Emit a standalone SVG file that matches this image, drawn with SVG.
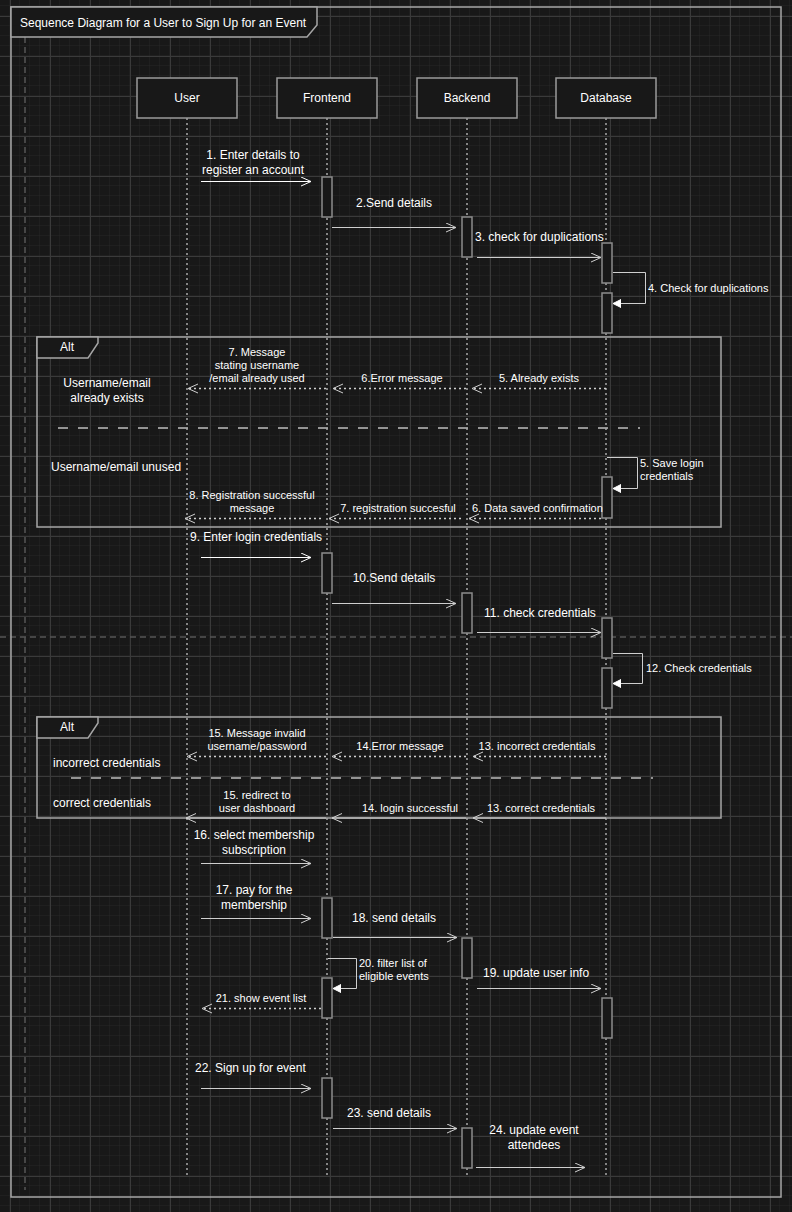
<svg xmlns="http://www.w3.org/2000/svg" width="792" height="1212" viewBox="0 0 792 1212">
<defs>
<pattern id="minor" x="0" y="6" width="10" height="10" patternUnits="userSpaceOnUse"><path d="M10,0 V10 M0,10 H10" fill="none" stroke="#262626" stroke-width="1"/></pattern>
<pattern id="major" x="10" y="16" width="40" height="40" patternUnits="userSpaceOnUse"><path d="M0.5,0 V40 M0,0.5 H40" fill="none" stroke="#3a3a3a" stroke-width="1"/></pattern>
<marker id="openW" markerUnits="userSpaceOnUse" markerWidth="14" markerHeight="12" refX="11" refY="5" orient="auto"><path d="M1,0.5 L11,5 L1,9.5" fill="none" stroke="#ffffff" stroke-width="1"/></marker>
<marker id="openG" markerUnits="userSpaceOnUse" markerWidth="14" markerHeight="12" refX="11" refY="5" orient="auto"><path d="M1,0.5 L11,5 L1,9.5" fill="none" stroke="#cfcfcf" stroke-width="1"/></marker>
<marker id="block" markerUnits="userSpaceOnUse" markerWidth="10" markerHeight="10" refX="8" refY="4" orient="auto"><path d="M0,0 L8,4 L0,8 Z" fill="#ffffff" stroke="#ffffff" stroke-width="1"/></marker>
<style>
text{font-family:"Liberation Sans",Arial,Helvetica,sans-serif;fill:#ffffff}
.t12{font-size:12px}
.t11{font-size:11px}
.mid{text-anchor:middle}
.head{fill:#181818;stroke:#9a9a9a;stroke-width:1.5}
.act{fill:#181818;stroke:#8c8c8c;stroke-width:1.5}
.life{stroke:#a8a8a8;stroke-width:1.5;stroke-dasharray:2 3}
.frame{fill:none;stroke:#a6a6a6;stroke-width:1.5}
.tab{fill:#181818;stroke:#a6a6a6;stroke-width:1.5}
.sep{stroke:#bdbdbd;stroke-width:1.5;stroke-dasharray:10 10}
.page{stroke:#555555;stroke-width:1.5;stroke-dasharray:6 4}
.msg{fill:none;stroke:#cfcfcf;stroke-width:1;marker-end:url(#openG)}
.msgw{fill:none;stroke:#ffffff;stroke-width:1;marker-end:url(#openW)}
.ret{fill:none;stroke:#cfcfcf;stroke-width:1.5;stroke-dasharray:2 3;marker-end:url(#openG)}
.self{fill:none;stroke:#cfcfcf;stroke-width:1;marker-end:url(#block)}
</style>
</defs>
<rect width="792" height="1212" fill="#181818"/>
<rect width="792" height="1212" fill="url(#minor)"/>
<rect width="792" height="1212" fill="url(#major)"/>
<line class="page" x1="25" y1="37" x2="25" y2="1190"/>
<line class="page" x1="0" y1="637" x2="792" y2="637"/>

<g id="outer-frame">
<rect class="frame" x="11" y="7" width="770" height="1190"/>
<path class="tab" d="M11,7 H317 V25 L307,37 H11 Z"/>
<text class="t12" x="20" y="27">Sequence Diagram for a User to Sign Up for an Event</text>
</g>

<g id="alt1">
<rect class="frame" x="37" y="337" width="684" height="190"/>
<path class="tab" d="M37,337 H98 V343 L88,358 H37 Z"/>
<text class="t12 mid" x="67" y="351">Alt</text>
<text class="t12 mid" x="107" y="387">Username/email</text>
<text class="t12 mid" x="107" y="402">already exists</text>
<line class="sep" x1="58" y1="428" x2="640" y2="428"/>
<text class="t12" x="51" y="471">Username/email unused</text>
</g>

<g id="alt2">
<rect class="frame" x="37" y="717" width="684" height="101"/>
<path class="tab" d="M37,717 H98 V723 L88,738 H37 Z"/>
<text class="t12 mid" x="67" y="731">Alt</text>
<text class="t12" x="53" y="767">incorrect credentials</text>
<line class="sep" x1="71" y1="778" x2="653" y2="778"/>
<text class="t12" x="53" y="807">correct credentials</text>
</g>

<g id="user">
<line class="life" x1="187" y1="118" x2="187" y2="1176"/>
<rect class="head" x="137" y="78" width="100" height="40"/>
<text class="t12 mid" x="187" y="102">User</text>
</g>

<g id="frontend">
<line class="life" x1="327" y1="118" x2="327" y2="1176"/>
<rect class="head" x="277" y="78" width="100" height="40"/>
<text class="t12 mid" x="327" y="102">Frontend</text>
<rect class="act" x="322" y="177" width="10" height="40"/>
<rect class="act" x="322" y="553" width="10" height="40"/>
<rect class="act" x="322" y="898" width="10" height="40"/>
<rect class="act" x="322" y="978" width="10" height="40"/>
<rect class="act" x="322" y="1078" width="10" height="40"/>
</g>

<g id="backend">
<line class="life" x1="467" y1="118" x2="467" y2="1176"/>
<rect class="head" x="417" y="78" width="100" height="40"/>
<text class="t12 mid" x="467" y="102">Backend</text>
<rect class="act" x="462" y="217" width="10" height="40"/>
<rect class="act" x="462" y="593" width="10" height="40"/>
<rect class="act" x="462" y="938" width="10" height="40"/>
<rect class="act" x="462" y="1128" width="10" height="40"/>
</g>

<g id="database">
<line class="life" x1="606" y1="118" x2="606" y2="1176"/>
<rect class="head" x="556" y="78" width="100" height="40"/>
<text class="t12 mid" x="606" y="102">Database</text>
<rect class="act" x="602" y="243" width="10" height="40"/>
<rect class="act" x="602" y="293" width="10" height="40"/>
<rect class="act" x="602" y="477" width="10" height="41"/>
<rect class="act" x="602" y="618" width="10" height="40"/>
<rect class="act" x="602" y="668" width="10" height="40"/>
<rect class="act" x="602" y="998" width="10" height="40"/>
</g>

<g id="connectors">
<path class="msgw" d="M201,181.5 H311"/>
<text class="t12 mid" x="253" y="159">1. Enter details to</text>
<text class="t12 mid" x="253" y="174">register an account</text>

<path class="msg" d="M332,227.5 H456"/>
<text class="t12 mid" x="394" y="207">2.Send details</text>

<path class="msg" d="M477,257.5 H601"/>
<text class="t12" x="475" y="241">3. check for duplications</text>

<path class="self" d="M613,272.5 H645.5 V303.5 H613"/>
<text class="t11" x="648" y="292">4. Check for duplications</text>

<path class="ret" d="M606,388.5 H472"/>
<text class="t11 mid" x="539" y="382">5. Already exists</text>
<path class="ret" d="M466,388.5 H333"/>
<text class="t11 mid" x="402" y="382">6.Error message</text>
<path class="ret" d="M326,388.5 H188"/>
<text class="t11 mid" x="257" y="356">7. Message</text>
<text class="t11 mid" x="257" y="369">stating username</text>
<text class="t11 mid" x="257" y="382">/email already used</text>

<path class="self" d="M607,457.5 H637.5 V488.5 H613"/>
<text class="t11" x="640" y="467">5. Save login</text>
<text class="t11" x="640" y="480">credentials</text>

<path class="ret" d="M601,518.5 H469"/>
<text class="t11" x="472" y="512">6. Data saved confirmation</text>
<path class="ret" d="M461,518.5 H329"/>
<text class="t11 mid" x="398" y="512">7. registration succesful</text>
<path class="ret" d="M321,518.5 H185"/>
<text class="t11 mid" x="252" y="499">8. Registration successful</text>
<text class="t11 mid" x="252" y="512">message</text>

<path class="msgw" d="M201,557.5 H311"/>
<text class="t12" x="190" y="541">9. Enter login credentials</text>

<path class="msg" d="M332,603.5 H456"/>
<text class="t12 mid" x="394" y="582">10.Send details</text>

<path class="msg" d="M477,632.5 H601"/>
<text class="t12" x="484" y="617">11. check credentials</text>

<path class="self" d="M613,653.5 H642.5 V683.5 H613"/>
<text class="t11" x="646" y="672">12. Check credentials</text>

<path class="ret" d="M606,756.5 H473"/>
<text class="t11 mid" x="537" y="750">13. incorrect credentials</text>
<path class="ret" d="M466,756.5 H332"/>
<text class="t11 mid" x="400" y="750">14.Error message</text>
<path class="ret" d="M326,756.5 H187"/>
<text class="t11 mid" x="257" y="737">15. Message invalid</text>
<text class="t11 mid" x="257" y="750">username/password</text>

<path class="msg" d="M606,818 H473"/>
<text class="t11 mid" x="541" y="812">13. correct credentials</text>
<path class="msg" d="M466,818 H332"/>
<text class="t11 mid" x="410" y="812">14. login successful</text>
<path class="msg" d="M326,818 H186"/>
<text class="t11 mid" x="257" y="799">15. redirect to</text>
<text class="t11 mid" x="257" y="812">user dashboard</text>

<path class="msg" d="M201,863.5 H311"/>
<text class="t12 mid" x="254" y="839">16. select membership</text>
<text class="t12 mid" x="254" y="854">subscription</text>

<path class="msg" d="M201,918.5 H311"/>
<text class="t12 mid" x="254" y="894">17. pay for the</text>
<text class="t12 mid" x="254" y="909">membership</text>

<path class="msg" d="M333,937.5 H457"/>
<text class="t12 mid" x="394" y="922">18. send details</text>

<path class="self" d="M328,958.5 H356.5 V988.5 H333"/>
<text class="t11" x="359" y="967">20. filter list of</text>
<text class="t11" x="359" y="980">eligible events</text>

<path class="ret" d="M321,1008.5 H202"/>
<text class="t11 mid" x="261" y="1002">21. show event list</text>

<path class="msg" d="M477,988.5 H601"/>
<text class="t12" x="483" y="977">19. update user info</text>

<path class="msg" d="M201,1088.5 H311"/>
<text class="t12" x="195" y="1072">22. Sign up for event</text>

<path class="msg" d="M333,1128.5 H457"/>
<text class="t12 mid" x="389" y="1117">23. send details</text>

<path class="msg" d="M476,1167.5 H585"/>
<text class="t12 mid" x="534" y="1134">24. update event</text>
<text class="t12 mid" x="534" y="1149">attendees</text>
</g>
</svg>
